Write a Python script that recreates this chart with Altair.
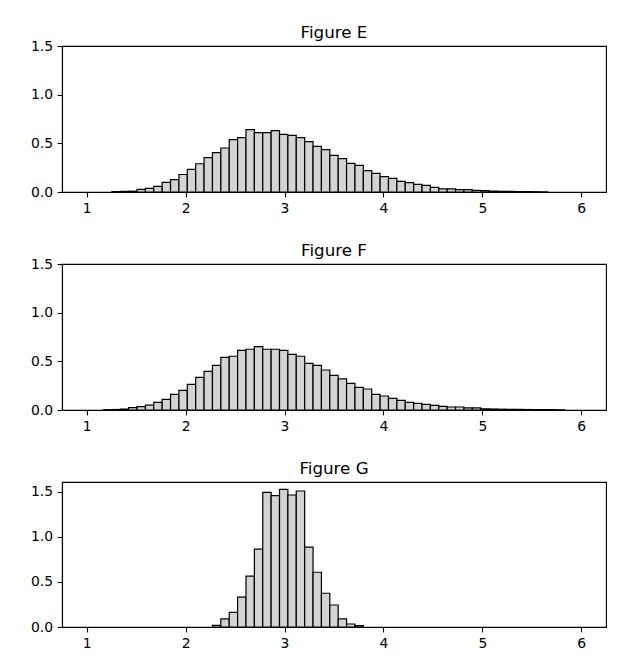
import altair as alt
import pandas as pd

# Histogram bins: 59 equal bins between 1 and 6
BIN_LO = 1.0
BIN_HI = 6.0
N_BINS = 59

TITLES = ["Figure E", "Figure F", "Figure G"]

# Density heights per bin (k = 0..58)
heights_E = [0, 0, 0, 0.004, 0.006, 0.008, 0.027, 0.038, 0.058, 0.099,
             0.127, 0.18, 0.233, 0.29, 0.353, 0.404, 0.452, 0.538, 0.558, 0.64,
             0.61, 0.61, 0.63, 0.593, 0.582, 0.558, 0.517, 0.469, 0.435, 0.377,
             0.343, 0.295, 0.274, 0.219, 0.192, 0.158, 0.14, 0.11, 0.096, 0.079,
             0.068, 0.047, 0.033, 0.033, 0.024, 0.024, 0.017, 0.015, 0.009, 0.007,
             0.006, 0.005, 0.004, 0.003, 0.002, 0, 0, 0, 0]

heights_F = [0, 0, 0.003, 0.005, 0.008, 0.024, 0.034, 0.051, 0.079, 0.11,
             0.161, 0.202, 0.264, 0.336, 0.397, 0.459, 0.541, 0.552, 0.613, 0.624,
             0.651, 0.624, 0.624, 0.613, 0.572, 0.552, 0.48, 0.459, 0.411, 0.356,
             0.319, 0.274, 0.233, 0.216, 0.161, 0.144, 0.12, 0.099, 0.079, 0.069,
             0.058, 0.048, 0.038, 0.031, 0.031, 0.021, 0.021, 0.012, 0.01, 0.008,
             0.007, 0.006, 0.005, 0.004, 0.003, 0.003, 0.002, 0, 0]

heights_G = [0, 0, 0, 0, 0, 0, 0, 0, 0, 0,
             0, 0, 0, 0, 0, 0.019, 0.089, 0.163, 0.33, 0.563,
             0.863, 1.493, 1.456, 1.526, 1.463, 1.507, 0.885, 0.607, 0.374, 0.244,
             0.089, 0.033, 0.015, 0, 0, 0, 0, 0, 0, 0,
             0, 0, 0, 0, 0, 0, 0, 0, 0, 0,
             0, 0, 0, 0, 0, 0, 0, 0, 0]

X_TICKS = [1, 2, 3, 4, 5, 6]
Y_TICKS = [0, 0.5, 1.0, 1.5]


def make_df(heights):
    w = (BIN_HI - BIN_LO) / N_BINS
    rows = []
    for k, h in enumerate(heights):
        if h > 0:
            rows.append({"x0": BIN_LO + k * w, "x1": BIN_LO + (k + 1) * w, "h": h})
    return pd.DataFrame(rows)


def panel(heights, title, ymax, h, toff):
    df = make_df(heights)
    return (
        alt.Chart(df)
        .mark_rect(fill="#d3d3d3", stroke="black", strokeWidth=1.2)
        .encode(
            x=alt.X("x0:Q", scale=alt.Scale(domain=[0.75, 6.25], nice=False, zero=False),
                    axis=alt.Axis(values=X_TICKS, format="d", title=None)),
            x2="x1:Q",
            y=alt.Y("h:Q", scale=alt.Scale(domain=[0, ymax], nice=False),
                    axis=alt.Axis(values=Y_TICKS, format=".1f", title=None)),
            y2=alt.datum(0),
        )
        .properties(width=544, height=h,
                    title=alt.TitleParams(title, frame="group", offset=toff))
    )


chart = alt.vconcat(
    panel(heights_E, TITLES[0], 1.5, 146, -3),
    panel(heights_F, TITLES[1], 1.5, 146, -3),
    panel(heights_G, TITLES[2], 1.607, 145, 4),
    spacing=26,
).properties(
    padding={"left": 21, "top": 16, "right": 5, "bottom": 5}
).configure_view(
    stroke="black", strokeWidth=1.1
).configure_axis(
    grid=False,
    domainColor="black",
    domainWidth=1.1,
    tickColor="black",
    tickWidth=1.1,
    tickSize=4.9,
    labelPadding=4.5,
    labelFont="DejaVu Sans",
    labelFontSize=13.9,
    labelColor="black",
).configure_title(
    font="DejaVu Sans",
    fontSize=16.7,
    fontWeight="normal",
    color="black",
    anchor="middle",
)

chart.save("out.html", embed_options={"renderer": "svg", "actions": False})
